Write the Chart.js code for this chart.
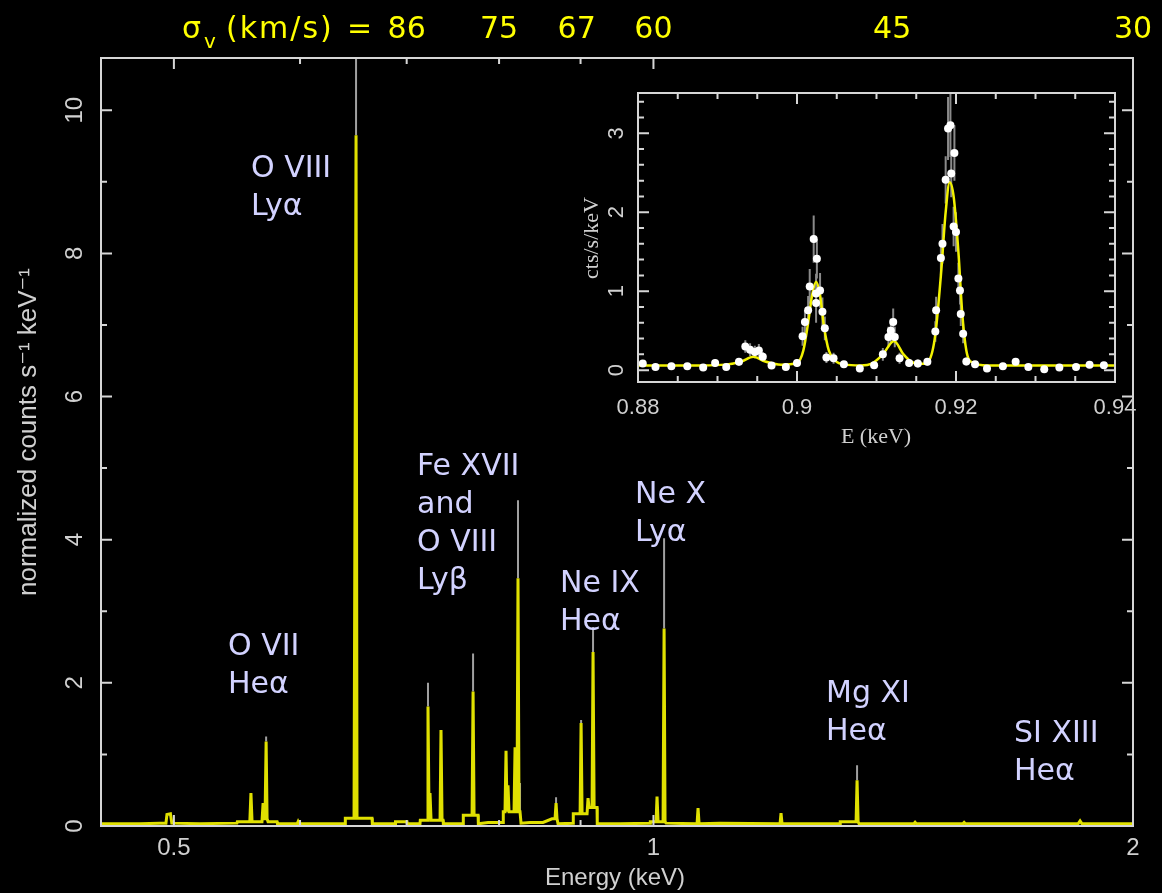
<!DOCTYPE html>
<html>
<head>
<meta charset="utf-8">
<script src="https://cdn.jsdelivr.net/npm/chart.js@4.4.1/dist/chart.umd.min.js"></script>
<style>
  html, body { margin: 0; padding: 0; background: #000; }
  #wrap { position: relative; width: 1162px; height: 893px; }
  canvas { position: absolute; left: 0; top: 0; }
</style>
</head>
<body>
<div id="wrap">
  <canvas id="mainChart" width="1162" height="893"></canvas>
  <canvas id="insetChart" width="1162" height="893"></canvas>
</div>
<script>
'use strict';

//////////////////////
// data - main spectrum
//////////////////////

const specEnergy = [0.45, 0.476, 0.490, 0.4943, 0.4950, 0.4975, 0.4985, 0.519, 0.5477, 0.5480, 0.5580, 0.5589, 0.5598,
  0.5679, 0.5688, 0.5696, 0.5704, 0.5713, 0.5721, 0.5729, 0.5804, 0.5808, 0.5975, 0.5983, 0.5991, 0.6403, 0.6406,
  0.6487, 0.6496, 0.6506, 0.6515, 0.6658, 0.6661, 0.6883, 0.6888, 0.7003, 0.7006, 0.7136, 0.7139, 0.7209, 0.7219,
  0.7230, 0.7240, 0.7251, 0.7346, 0.7356, 0.7367, 0.7378, 0.7381, 0.7594, 0.7597, 0.7694, 0.7705, 0.7716, 0.7761,
  0.7764, 0.7874, 0.8046, 0.8049, 0.8069, 0.8081, 0.8093, 0.8104, 0.8116, 0.8175, 0.8187, 0.8198, 0.8210, 0.8222,
  0.8234, 0.8246, 0.8258, 0.8366, 0.8525, 0.8636, 0.8674, 0.8687, 0.8699, 0.8712, 0.8903, 0.8906, 0.8994, 0.9007,
  0.9020, 0.9085, 0.9098, 0.9111, 0.9151, 0.9164, 0.9178, 0.9217, 0.9220, 0.9529, 0.9951, 0.9955, 1.0038, 1.0052,
  1.0067, 1.0140, 1.0155, 1.0169, 1.0184, 1.0651, 1.0666, 1.0682, 1.1011, 1.2008, 1.2025, 1.2043, 1.3096, 1.3100,
  1.3403, 1.3422, 1.3442, 1.3461, 1.4570, 1.4596, 1.4622, 1.5640, 1.5668, 1.5696, 1.8473, 1.8527, 1.8580, 2.0];
const specCounts = [0.03, 0.03, 0.04, 0.04, 0.16, 0.17, 0.04, 0.03, 0.04, 0.06, 0.06, 0.46, 0.06,
  0.06, 0.32, 0.10, 0.10, 1.18, 0.10, 0.06, 0.06, 0.03, 0.03, 0.06, 0.03, 0.03, 0.11,
  0.11, 0.11, 9.65, 0.11, 0.11, 0.03, 0.03, 0.06, 0.06, 0.03, 0.03, 0.08, 0.08, 1.67,
  0.15, 0.46, 0.08, 0.08, 1.34, 0.08, 0.08, 0.03, 0.03, 0.15, 0.15, 1.88, 0.15, 0.15,
  0.03, 0.05, 0.05, 0.20, 0.20, 1.05, 0.20, 0.57, 0.20, 0.20, 1.10, 0.20, 0.20, 3.46,
  0.20, 0.20, 0.04, 0.05, 0.05, 0.10, 0.10, 0.32, 0.10, 0.03, 0.04, 0.17, 0.17, 1.44,
  0.17, 0.17, 0.39, 0.26, 0.26, 2.43, 0.26, 0.26, 0.03, 0.03, 0.04, 0.06, 0.06, 0.41,
  0.06, 0.06, 2.76, 0.06, 0.04, 0.03, 0.25, 0.03, 0.04, 0.03, 0.18, 0.03, 0.03, 0.06,
  0.06, 0.64, 0.06, 0.03, 0.03, 0.05, 0.03, 0.03, 0.05, 0.03, 0.03, 0.07, 0.03, 0.03];

// grey error tips above the strongest lines
const tipEnergy = [0.5713, 0.6506, 0.7219, 0.7705, 0.8222, 0.8246, 0.8687, 0.9007, 0.9164, 1.0155, 1.3422];
const tipLow = [1.18, 9.65, 1.67, 1.88, 3.46, 0.20, 0.32, 1.44, 2.43, 2.76, 0.64];
const tipHigh = [1.25, 10.9, 2.00, 2.41, 4.55, 0.60, 0.40, 1.48, 2.78, 4.02, 0.85];

const mainXMajor = [0.5, 1, 2];
const mainXMinor = [0.6, 0.7, 0.8, 0.9];
const mainXLabels = ['0.5', '1', '2'];
const mainYMajor = [0, 2, 4, 6, 8, 10];
const mainYMinor = [1, 3, 5, 7, 9];
const mainYLabels = ['0', '2', '4', '6', '8', '10'];

const sigmaValues = ['86', '75', '67', '60', '45', '30'];
const sigmaEnergy = [0.70, 0.80, 0.895, 1.0, 1.412, 2.0];

//////////////////////
// data - inset (Ne IX triplet)
//////////////////////

const insetEnergy = [0.8806, 0.8822, 0.8842, 0.8862, 0.8882, 0.8897, 0.8911, 0.8927, 0.8935, 0.8941, 0.8947, 0.8952,
  0.8957, 0.8968, 0.8986, 0.9000, 0.9007, 0.9010, 0.9014, 0.9016, 0.9021, 0.9024, 0.9024, 0.9025, 0.9029, 0.9032,
  0.9035, 0.9037, 0.9046, 0.9059, 0.9079, 0.9097, 0.9108, 0.9115, 0.9118, 0.9121, 0.9123, 0.9129, 0.9141, 0.9152,
  0.9164, 0.9174, 0.9175, 0.9181, 0.9183, 0.9187, 0.9190, 0.9193, 0.9194, 0.9198, 0.9197, 0.9200, 0.9203, 0.9205,
  0.9206, 0.9209, 0.9213, 0.9224, 0.9239, 0.9259, 0.9275, 0.9291, 0.9311, 0.9330, 0.9351, 0.9368, 0.9386];
const insetCounts = [0.085, 0.04, 0.05, 0.05, 0.035, 0.09, 0.04, 0.105, 0.30, 0.26, 0.23, 0.25,
  0.17, 0.06, 0.04, 0.09, 0.43, 0.61, 0.76, 1.06, 1.66, 0.97, 0.85, 1.41, 1.01, 0.74,
  0.53, 0.16, 0.15, 0.076, 0.02, 0.063, 0.20, 0.42, 0.50, 0.61, 0.42, 0.15, 0.09, 0.085,
  0.105, 0.49, 0.76, 1.42, 1.60, 2.41, 3.06, 3.10, 2.49, 2.75, 1.82, 1.75, 1.16, 1.01,
  0.71, 0.46, 0.11, 0.076, 0.02, 0.05, 0.105, 0.04, 0.01, 0.034, 0.04, 0.07, 0.063];
const insetErr = [0.04, 0.04, 0.04, 0.04, 0.04, 0.05, 0.04, 0.05, 0.08, 0.08, 0.08, 0.08,
  0.06, 0.04, 0.04, 0.05, 0.12, 0.15, 0.18, 0.22, 0.30, 0.25, 0.25, 0.25, 0.22, 0.18,
  0.15, 0.07, 0.07, 0.04, 0.04, 0.04, 0.08, 0.13, 0.15, 0.17, 0.13, 0.07, 0.05, 0.05,
  0.05, 0.13, 0.17, 0.22, 0.25, 0.30, 0.40, 0.40, 0.30, 0.35, 0.25, 0.25, 0.20, 0.18,
  0.15, 0.12, 0.05, 0.04, 0.04, 0.04, 0.05, 0.04, 0.04, 0.04, 0.04, 0.04, 0.04];

const fitEnergy = [0.880, 0.888, 0.891, 0.893, 0.8945, 0.896, 0.898, 0.900, 0.9008, 0.9014, 0.9019, 0.9024, 0.9029,
  0.9034, 0.9040, 0.9048, 0.906, 0.908, 0.9095, 0.9108, 0.9122, 0.9134, 0.9145, 0.9158, 0.9166, 0.9174, 0.9181,
  0.9187, 0.9192, 0.9197, 0.9203, 0.9208, 0.9213, 0.9220, 0.924, 0.930, 0.940];
const fitCounts = [0.06, 0.06, 0.07, 0.11, 0.17, 0.11, 0.07, 0.09, 0.25, 0.60, 0.95, 1.12, 0.95,
  0.55, 0.25, 0.12, 0.07, 0.06, 0.09, 0.20, 0.37, 0.20, 0.10, 0.08, 0.12, 0.45, 1.20,
  2.00, 2.38, 2.20, 1.50, 0.70, 0.25, 0.10, 0.06, 0.06, 0.06];

const insetXMajor = [0.88, 0.90, 0.92, 0.94];
const insetXMinor = [0.885, 0.89, 0.895, 0.905, 0.91, 0.915, 0.925, 0.93, 0.935];
const insetXLabels = ['0.88', '0.9', '0.92', '0.94'];
const insetYMajor = [0, 1, 2, 3];
const insetYMinor = [0.2, 0.4, 0.6, 0.8, 1.2, 1.4, 1.6, 1.8, 2.2, 2.4, 2.6, 2.8, 3.2, 3.4];
const insetYLabels = ['0', '1', '2', '3'];

//////////////////////
// look
//////////////////////

const axisColor = '#d6d6d6';
const labelColor = '#d0d0d0';
const lineLabelColor = '#d2d2ff';
const specYellow = '#e0e000';
const sansFont = "'Liberation Sans', Arial, 'DejaVu Sans', sans-serif";
const noteFont = "'DejaVu Sans', Verdana, sans-serif";

const lineNotes = [
  { lines: ['O VIII', 'Lyα'], x: 251, y: 177 },
  { lines: ['O VII', 'Heα'], x: 228, y: 655 },
  { lines: ['Fe XVII', 'and', 'O VIII', 'Lyβ'], x: 417, y: 475 },
  { lines: ['Ne IX', 'Heα'], x: 560, y: 592 },
  { lines: ['Ne X', 'Lyα'], x: 635, y: 503 },
  { lines: ['Mg XI', 'Heα'], x: 826, y: 702 },
  { lines: ['SI XIII', 'Heα'], x: 1014, y: 742 }
];

//////////////////////
// helpers
//////////////////////

function toPoints(xs, ys) {
  return xs.map((x, i) => ({ x: x, y: ys[i] }));
}

// vertical segments separated by gaps
function toSegments(xs, lows, highs) {
  const pts = [];
  for (let i = 0; i < xs.length; i++) {
    pts.push({ x: xs[i], y: lows[i] });
    pts.push({ x: xs[i], y: highs[i] });
    pts.push({ x: xs[i], y: null });
  }
  return pts;
}

function drawFrame(chart, o) {
  const ctx = chart.ctx;
  const a = chart.chartArea;
  const xs = chart.scales.x;
  const ys = chart.scales.y;
  ctx.save();
  ctx.strokeStyle = axisColor;
  ctx.lineWidth = 2;
  ctx.strokeRect(a.left, a.top, a.right - a.left, a.bottom - a.top);

  ctx.beginPath();
  const xTick = (v, len) => {
    const px = xs.getPixelForValue(v);
    ctx.moveTo(px, a.top); ctx.lineTo(px, a.top + len);
    ctx.moveTo(px, a.bottom); ctx.lineTo(px, a.bottom - len);
  };
  const yTick = (v, len) => {
    const py = ys.getPixelForValue(v);
    ctx.moveTo(a.left, py); ctx.lineTo(a.left + len, py);
    ctx.moveTo(a.right, py); ctx.lineTo(a.right - len, py);
  };
  o.xMajor.forEach(v => xTick(v, o.major));
  o.xMinor.forEach(v => xTick(v, o.minor));
  o.yMajor.forEach(v => yTick(v, o.major));
  o.yMinor.forEach(v => yTick(v, o.minor));
  ctx.stroke();

  ctx.fillStyle = labelColor;
  ctx.font = o.tickFont;
  ctx.textAlign = 'center';
  ctx.textBaseline = 'middle';
  o.xLabels.forEach((t, i) => {
    ctx.fillText(t, xs.getPixelForValue(o.xMajor[i]), a.bottom + o.xGap);
  });
  o.yLabels.forEach((t, i) => {
    ctx.save();
    ctx.translate(a.left - o.yGap, ys.getPixelForValue(o.yMajor[i]));
    ctx.rotate(-Math.PI / 2);
    ctx.fillText(t, 0, 0);
    ctx.restore();
  });

  ctx.font = o.xTitleFont;
  ctx.fillText(o.xTitle, o.xTitlePos[0], o.xTitlePos[1]);
  ctx.font = o.yTitleFont;
  ctx.save();
  ctx.translate(o.yTitlePos[0], o.yTitlePos[1]);
  ctx.rotate(-Math.PI / 2);
  ctx.fillText(o.yTitle, 0, 0);
  ctx.restore();
  ctx.restore();
}

const mainDecor = {
  id: 'mainDecor',
  afterDatasetsDraw(chart) {
    drawFrame(chart, {
      xMajor: mainXMajor, xMinor: mainXMinor, yMajor: mainYMajor, yMinor: mainYMinor,
      xLabels: mainXLabels, yLabels: mainYLabels,
      major: 11, minor: 6, xGap: 22, yGap: 26,
      tickFont: '24px ' + sansFont,
      xTitleFont: '24px ' + sansFont, yTitleFont: '26px ' + sansFont,
      xTitle: 'Energy (keV)', xTitlePos: [615, 878],
      yTitle: 'normalized counts s⁻¹ keV⁻¹', yTitlePos: [29, 432]
    });

    const ctx = chart.ctx;
    const xs = chart.scales.x;
    ctx.save();

    // line identifications
    ctx.fillStyle = lineLabelColor;
    ctx.font = '30px ' + noteFont;
    ctx.textAlign = 'left';
    ctx.textBaseline = 'alphabetic';
    for (const note of lineNotes) {
      note.lines.forEach((t, i) => ctx.fillText(t, note.x, note.y + i * 38));
    }

    // velocity dispersion scale along the top
    ctx.fillStyle = '#ffff00';
    ctx.font = '30px ' + noteFont;
    ctx.fillText('σ', 182, 38);
    ctx.font = '20px ' + noteFont;
    ctx.fillText('v', 204, 48);
    ctx.font = '30px ' + noteFont;
    ctx.letterSpacing = '2px';
    ctx.fillText('(km/s)', 226, 38);
    ctx.letterSpacing = '0px';
    ctx.fillText('=', 347, 38);
    ctx.textAlign = 'center';
    sigmaValues.forEach((t, i) => ctx.fillText(t, xs.getPixelForValue(sigmaEnergy[i]), 38));
    ctx.restore();
  }
};

const insetDecor = {
  id: 'insetDecor',
  afterDatasetsDraw(chart) {
    const serif = "22px 'Liberation Serif', 'DejaVu Serif', serif";
    drawFrame(chart, {
      xMajor: insetXMajor, xMinor: insetXMinor, yMajor: insetYMajor, yMinor: insetYMinor,
      xLabels: insetXLabels, yLabels: insetYLabels,
      major: 11, minor: 6, xGap: 26, yGap: 21,
      tickFont: '22px ' + sansFont, xTitleFont: serif, yTitleFont: serif,
      xTitle: 'E (keV)', xTitlePos: [876, 437],
      yTitle: 'cts/s/keV', yTitlePos: [592, 238]
    });
  }
};

//////////////////////
// charts
//////////////////////

// lower order is drawn on top
const mainConfig = {
  type: 'scatter',
  data: {
    datasets: [{
      label: 'errors',
      data: toSegments(tipEnergy, tipLow, tipHigh),
      showLine: true,
      spanGaps: false,
      borderColor: '#a0a0a0',
      borderWidth: 2,
      pointRadius: 0,
      order: 2
    },
    {
      label: 'spectrum',
      data: toPoints(specEnergy, specCounts),
      showLine: true,
      borderColor: specYellow,
      borderWidth: 3,
      pointRadius: 0,
      tension: 0,
      order: 1
    }]
  },
  options: {
    responsive: false,
    devicePixelRatio: 1,
    animation: false,
    layout: { padding: { left: 101, top: 58, right: 29, bottom: 67 } },
    plugins: { legend: { display: false }, tooltip: { enabled: false } },
    scales: {
      x: { type: 'logarithmic', min: 0.45, max: 2.0, display: false },
      y: { type: 'linear', min: 0, max: 10.73, display: false }
    }
  },
  plugins: [mainDecor]
};

const insetConfig = {
  type: 'scatter',
  data: {
    datasets: [{
      label: 'errors',
      data: toSegments(insetEnergy,
        insetCounts.map((v, i) => v - insetErr[i]),
        insetCounts.map((v, i) => v + insetErr[i])),
      showLine: true,
      spanGaps: false,
      borderColor: '#8a8a8a',
      borderWidth: 2,
      pointRadius: 0,
      order: 3
    },
    {
      label: 'fit',
      data: toPoints(fitEnergy, fitCounts),
      showLine: true,
      borderColor: '#f2f200',
      borderWidth: 2.5,
      pointRadius: 0,
      cubicInterpolationMode: 'monotone',
      order: 2
    },
    {
      label: 'data',
      data: toPoints(insetEnergy, insetCounts),
      showLine: false,
      pointRadius: 4,
      pointBackgroundColor: '#ffffff',
      pointBorderColor: '#ffffff',
      pointBorderWidth: 0,
      order: 1
    }]
  },
  options: {
    responsive: false,
    devicePixelRatio: 1,
    animation: false,
    layout: { padding: { left: 638, top: 93, right: 47, bottom: 511 } },
    plugins: { legend: { display: false }, tooltip: { enabled: false } },
    scales: {
      x: { type: 'linear', min: 0.88, max: 0.94, display: false },
      y: { type: 'linear', min: -0.15, max: 3.51, display: false }
    }
  },
  plugins: [insetDecor]
};

new Chart(document.getElementById('mainChart'), mainConfig);
new Chart(document.getElementById('insetChart'), insetConfig);
</script>
</body>
</html>
